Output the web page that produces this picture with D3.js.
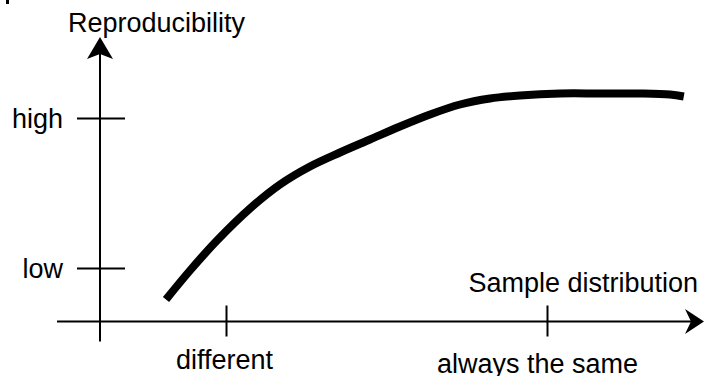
<!DOCTYPE html>
<html>
<head>
<meta charset="utf-8">
<script src="https://cdn.jsdelivr.net/npm/d3@7"></script>
<style>
  html, body { margin: 0; padding: 0; background: #fff; }
  svg { display: block; }
  text { font-family: "Liberation Sans", Arial, sans-serif; fill: #000; }
</style>
</head>
<body>
<svg id="chart" width="704" height="376"></svg>
<script>
// ---- data ----
const curveX = [11, 15, 19.5, 25, 30, 35, 40, 45, 50, 55, 60, 65, 70, 76.7, 83.3, 90, 95, 97.3];
const curveY = [8.8, 20.4, 32.4, 45.2, 54.8, 62, 67.6, 72.8, 78, 82.8, 86.8, 89.2, 90.4, 91.2, 91.2, 91.2, 90.8, 90];
const xTickValues = [21, 74.5];
const xTickLabels = ["different", "always the same"];
const yTickValues = [21.4, 81.4];
const yTickLabels = ["low", "high"];
const xTitle = "Sample distribution";
const yTitle = "Reproducibility";

// ---- drawing ----
const svg = d3.select("#chart");
const x = d3.scaleLinear().domain([0, 100]).range([100, 700]);
const y = d3.scaleLinear().domain([0, 100]).range([321.5, 71.5]);
const fontSize = 27;

// stray fragment at top-left of the reference
svg.append("rect").attr("x", 6).attr("y", 0).attr("width", 3).attr("height", 4).attr("fill", "#000");

// axis lines
svg.append("line")
  .attr("x1", x(0)).attr("x2", x(0))
  .attr("y1", y(0) + 20).attr("y2", 50)
  .attr("stroke", "#000").attr("stroke-width", 2);
svg.append("line")
  .attr("x1", x(0) - 43).attr("x2", 695)
  .attr("y1", y(0)).attr("y2", y(0))
  .attr("stroke", "#000").attr("stroke-width", 2);

// arrowheads
const ax = x(0), ay = y(0);
svg.append("path")
  .attr("d", `M${ax},37 L${ax + 13},59 L${ax},54 L${ax - 13},59 Z`)
  .attr("fill", "#000");
svg.append("path")
  .attr("d", `M704,${ay} L685,${ay - 12.5} L691,${ay} L685,${ay + 12.5} Z`)
  .attr("fill", "#000");

// y axis ticks + labels
const yAxis = d3.axisLeft(y)
  .tickValues(yTickValues)
  .tickFormat((d, i) => yTickLabels[i])
  .tickSize(48)
  .tickPadding(14);
const gy = svg.append("g").attr("transform", `translate(${x(0) + 25},0)`).call(yAxis);
gy.select(".domain").remove();
gy.selectAll(".tick line").attr("stroke", "#000").attr("stroke-width", 2);
gy.selectAll(".tick text")
  .attr("font-size", fontSize)
  .attr("font-family", "Liberation Sans, Arial, sans-serif")
  .attr("fill", "#000")
  .attr("dy", "0.35em");

// x axis ticks + labels
const xAxis = d3.axisBottom(x)
  .tickValues(xTickValues)
  .tickFormat((d, i) => xTickLabels[i])
  .tickSize(31)
  .tickPadding(13);
const gx = svg.append("g").attr("transform", `translate(0,${y(0) - 16})`).call(xAxis);
gx.select(".domain").remove();
gx.selectAll(".tick line").attr("stroke", "#000").attr("stroke-width", 2);
const xLabelShift = [[-2, 0], [-10, 4]];
gx.selectAll(".tick text")
  .attr("font-size", fontSize)
  .attr("font-family", "Liberation Sans, Arial, sans-serif")
  .attr("fill", "#000")
  .attr("transform", (d, i) => `translate(${xLabelShift[i][0]},${xLabelShift[i][1]})`);

// axis titles
svg.append("text")
  .attr("x", 156.5).attr("y", 32)
  .attr("text-anchor", "middle")
  .attr("font-size", fontSize)
  .text(yTitle);
svg.append("text")
  .attr("x", 698).attr("y", 292)
  .attr("text-anchor", "end")
  .attr("font-size", fontSize)
  .text(xTitle);

// curve
const pts = curveX.map((v, i) => [v, curveY[i]]);
const line = d3.line()
  .x(d => x(d[0]))
  .y(d => y(d[1]))
  .curve(d3.curveCatmullRom.alpha(0.5));
svg.append("path")
  .datum(pts)
  .attr("d", line)
  .attr("fill", "none")
  .attr("stroke", "#000")
  .attr("stroke-width", 8)
  .attr("stroke-linecap", "butt");
</script>
</body>
</html>
